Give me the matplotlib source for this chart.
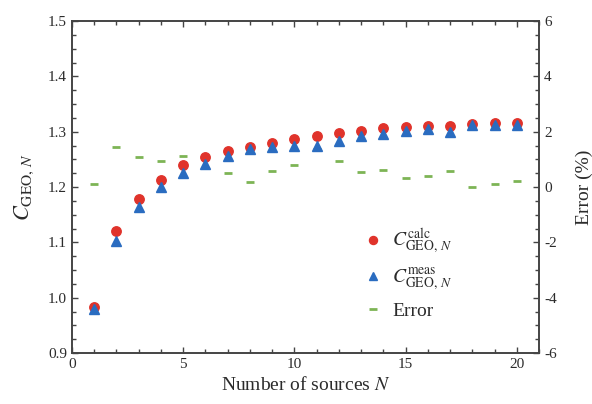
import matplotlib
matplotlib.use("Agg")
import matplotlib.pyplot as plt
from matplotlib.ticker import MultipleLocator

plt.rcParams['font.family'] = ['Liberation Serif', 'DejaVu Serif']
plt.rcParams['mathtext.fontset'] = 'stix'
plt.rcParams['axes.unicode_minus'] = False

# datos
n_sources = list(range(1, 21))
c_calc = [0.983, 1.120, 1.179, 1.212, 1.239, 1.255, 1.265, 1.273, 1.280, 1.287,
          1.293, 1.297, 1.301, 1.306, 1.309, 1.311, 1.310, 1.313, 1.316, 1.316]
c_meas = [0.980, 1.102, 1.163, 1.200, 1.225, 1.241, 1.256, 1.269, 1.272, 1.275,
          1.274, 1.283, 1.293, 1.295, 1.302, 1.305, 1.299, 1.312, 1.312, 1.312]
error_pct = [0.10, 1.45, 1.07, 0.93, 1.13, 1.01, 0.52, 0.17, 0.59, 0.80,
             1.37, 0.93, 0.54, 0.62, 0.34, 0.41, 0.57, 0.00, 0.11, 0.22]

rojo = "#e0332b"
azul = "#2a6cc0"
verde = "#7db455"
gris = "#2b2b2b"

fig = plt.figure(figsize=(5.92, 4.04), dpi=100)
ax = fig.add_axes([0.1216, 0.1262, 0.7889, 0.8218])
ax2 = ax.twinx()

# error detras de los simbolos
ax.set_zorder(ax2.get_zorder() + 1)
ax.patch.set_visible(False)

h_err, = ax2.plot(n_sources, error_pct, linestyle="none", marker="_",
                  markersize=6, markeredgewidth=2, color=verde)
h_calc, = ax.plot(n_sources, c_calc, linestyle="none", marker="o",
                  markersize=6.8, color=rojo, zorder=2)
h_meas, = ax.plot(n_sources, c_meas, linestyle="none", marker="^",
                  markersize=7, color=azul, zorder=3)

ax.set_xlim(0, 21)
ax.set_ylim(0.9, 1.5)
ax2.set_ylim(-6, 6)

ax.xaxis.set_major_locator(MultipleLocator(5))
ax.xaxis.set_minor_locator(MultipleLocator(1))
ax.yaxis.set_major_locator(MultipleLocator(0.1))
ax.yaxis.set_minor_locator(MultipleLocator(0.025))
ax2.yaxis.set_major_locator(MultipleLocator(2))
ax2.yaxis.set_minor_locator(MultipleLocator(0.5))
ax.yaxis.set_major_formatter(plt.FormatStrFormatter("%.1f"))

ax.tick_params(which="both", direction="in", top=True, right=False,
               labelsize=11, labelcolor=gris, color="#444444")
ax.tick_params(which="major", length=4, width=1)
ax.tick_params(which="minor", length=3, width=1)
ax2.tick_params(which="both", direction="in", labelsize=11,
                labelcolor=gris, color="#444444")
ax2.tick_params(which="major", length=4, width=1)
ax2.tick_params(which="minor", length=3, width=1)

for a in (ax, ax2):
    for s in a.spines.values():
        s.set_color("#444444")
        s.set_linewidth(1.2)

ax.set_xlabel("Number of sources $N$", fontsize=14, color=gris, labelpad=4)
ax.set_ylabel(r"$C_{\mathrm{GEO},\,N}$", fontsize=16, color=gris, labelpad=9)
ax2.set_ylabel("Error (%)", fontsize=14, color=gris, labelpad=14)

ax.legend([h_calc, h_meas, h_err],
          [r"$C^{\mathrm{calc}}_{\mathrm{GEO},\,N}$",
           r"$C^{\mathrm{meas}}_{\mathrm{GEO},\,N}$",
           "Error"],
          loc="center left", bbox_to_anchor=(0.59, 0.24), frameon=False,
          fontsize=14, handlelength=0.8, handletextpad=0.6,
          labelspacing=0.5, markerscale=0.85, labelcolor=gris)

fig.savefig("out.png", dpi=100)
